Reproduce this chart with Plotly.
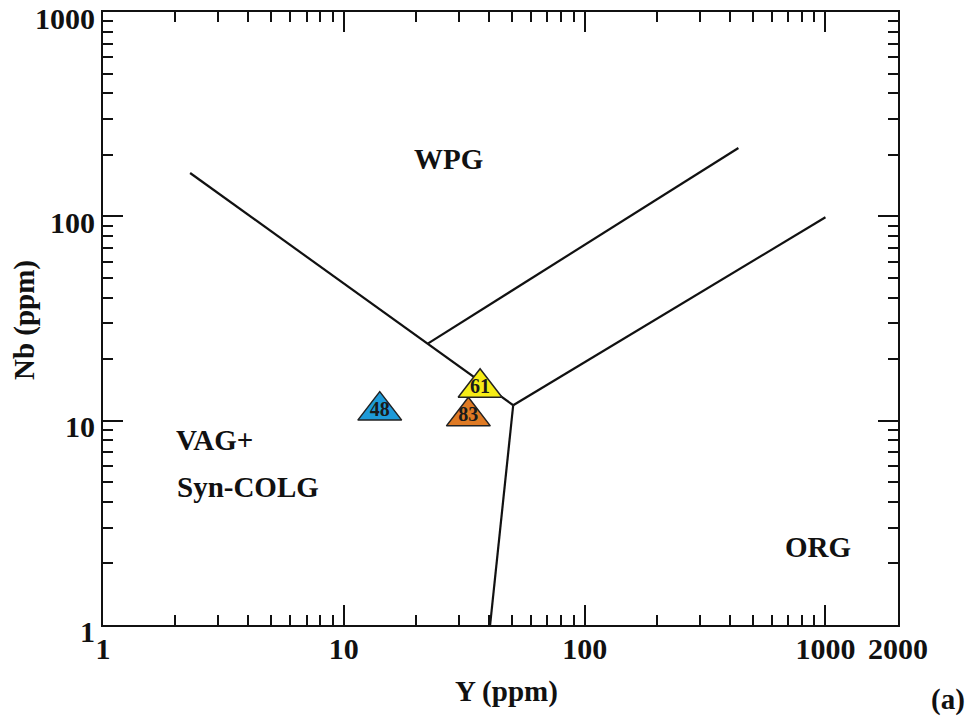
import numpy as np
import plotly.graph_objects as go

# Discrimination boundaries (Pearce et al. 1984), values in ppm
seg1_y = [2.3, 50.5]
seg1_nb = [163, 11.9]
seg2_y = [22.4, 435]
seg2_nb = [23.9, 216]
seg3_y = [50.5, 1000]
seg3_nb = [11.9, 99]
seg4_y = [50.5, 40.5]
seg4_nb = [11.9, 1]

# Samples (drawn order: blue, orange, yellow on top)
sample_names = ["48", "83", "61"]
sample_y = [14.1, 32.9, 36.8]
sample_nb = [11.2, 10.5, 14.5]
sample_colors = ["#1E9AD8", "#DF7A24", "#F6EC16"]

# Region labels
region_names = ["WPG", "VAG+", "Syn-COLG", "ORG"]
region_y = [27.1, 1.98, 2.0, 935]
region_nb = [190, 8.0, 4.75, 2.42]
region_anchor = ["center", "left", "left", "center"]

# Axis ticks
x_tickvals = [1, 10, 100, 1000, 2000]
x_ticktext = ["1", "10", "100", "1000", "2000"]
y_tickvals = [1, 10, 100, 1000]
y_ticktext = ["1", "10", "100", "1000"]
x_minor = [d * 10 ** e for e in range(3) for d in range(2, 10)]
y_minor = [d * 10 ** e for e in range(3) for d in range(2, 10)]

FONT = "Liberation Serif"

fig = go.Figure()
for sx, sy in [(seg1_y, seg1_nb), (seg2_y, seg2_nb), (seg3_y, seg3_nb), (seg4_y, seg4_nb)]:
    fig.add_trace(go.Scatter(x=sx, y=sy, mode="lines",
                             line=dict(color="#111111", width=2.2),
                             hoverinfo="skip", showlegend=False))

fig.add_trace(go.Scatter(
    x=sample_y, y=sample_nb, mode="markers+text",
    text=sample_names, textposition="middle center",
    textfont=dict(family=FONT, size=20, color="#1a1a1a", weight="bold"),
    marker=dict(symbol="triangle-up", size=38, color=sample_colors,
                line=dict(color="#222222", width=1.5)),
    showlegend=False))

annotations = []
for name, rx, ry, anc in zip(region_names, region_y, region_nb, region_anchor):
    annotations.append(dict(x=np.log10(rx), y=np.log10(ry), xref="x", yref="y",
                            text="<b>%s</b>" % name, showarrow=False,
                            xanchor=anc, yanchor="middle",
                            font=dict(family=FONT, size=29, color="#111111")))
annotations += [
    dict(x=0.507, y=-0.108, xref="paper", yref="paper", text="<b>Y (ppm)</b>",
         showarrow=False, xanchor="center", yanchor="middle",
         font=dict(family=FONT, size=29, color="#111111")),
    dict(x=-0.098, y=0.4976, xref="paper", yref="paper", text="<b>Nb (ppm)</b>",
         showarrow=False, textangle=-90, xanchor="center", yanchor="middle",
         font=dict(family=FONT, size=29, color="#111111")),
    dict(x=1.063, y=-0.122, xref="paper", yref="paper", text="<b>(a)</b>",
         showarrow=False, xanchor="center", yanchor="middle",
         font=dict(family=FONT, size=29, color="#111111")),
]

axis_common = dict(showline=True, linecolor="#111111", linewidth=2,
                   mirror="ticks", ticks="inside", tickcolor="#111111",
                   tickwidth=2, ticklen=20, showgrid=False, zeroline=False,
                   ticklabeloverflow="allow",
                   tickfont=dict(family=FONT, size=30, color="#111111", weight="bold"))

fig.update_xaxes(type="log", range=[0, np.log10(2000) + 0.0002], tickmode="array",
                 tickvals=x_tickvals, ticktext=x_ticktext,
                 minor=dict(tickmode="array", tickvals=x_minor, ticks="inside",
                            ticklen=10, tickwidth=2, tickcolor="#111111", showgrid=False),
                 ticklabelstandoff=-4,
                 **axis_common)
fig.update_yaxes(type="log", range=[0, 3.0002], tickmode="array",
                 tickvals=y_tickvals, ticktext=y_ticktext,
                 minor=dict(tickmode="array", tickvals=y_minor, ticks="inside",
                            ticklen=10, tickwidth=2, tickcolor="#111111", showgrid=False),
                 ticklabelshift=6,
                 **axis_common)

fig.update_layout(width=976, height=724,
                  margin=dict(l=103, r=78, t=12, b=99, autoexpand=False),
                  plot_bgcolor="white", paper_bgcolor="white",
                  annotations=annotations, showlegend=False)

fig.write_html("out.html")
